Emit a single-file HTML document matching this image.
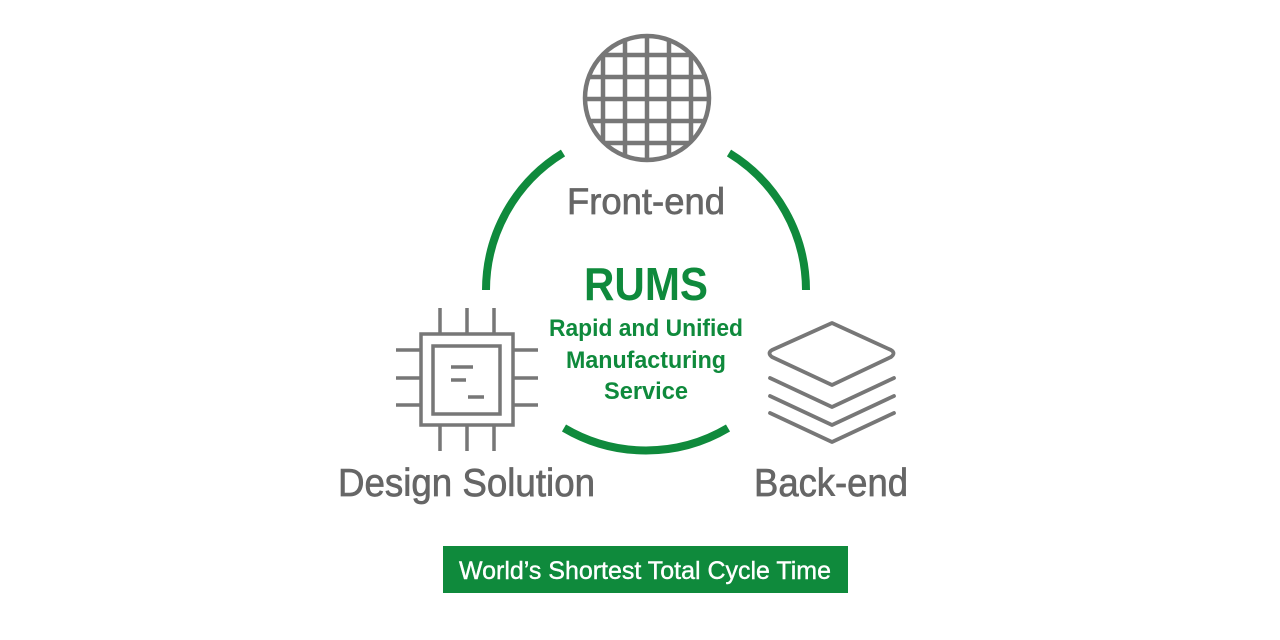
<!DOCTYPE html>
<html><head><meta charset="utf-8"><style>
html,body{margin:0;padding:0;background:#fff;}
svg{display:block;}
text{font-family:"Liberation Sans Narrow","Liberation Sans",sans-serif;}
</style></head><body>
<svg width="1280" height="640" viewBox="0 0 1280 640" xmlns="http://www.w3.org/2000/svg">
<defs><clipPath id="wc"><circle cx="647" cy="98" r="63"/></clipPath></defs>
<g fill="none" stroke="#0f8a3c" stroke-width="8">
<path d="M486,290 A161,161 0 0 1 563,153"/>
<path d="M729,153 A161,161 0 0 1 806,290"/>
<path d="M564,428 A161,161 0 0 0 728,428"/>
</g>
<g stroke="#777" fill="none">
<circle cx="647" cy="98" r="62" stroke-width="4.5"/>
<g clip-path="url(#wc)" stroke-width="4.5">
<path d="M603,30V170M625,30V170M647,30V170M669,30V170M691,30V170"/>
<path d="M570,55H730M570,77H730M570,99H730M570,121H730M570,143H730"/>
</g>
</g>
<g stroke="#777" stroke-width="3.5" fill="none">
<rect x="421" y="334" width="92" height="91"/>
<rect x="433" y="346" width="67" height="68"/>
<path d="M440,308V334M467,308V334M494,308V334M440,425V451M467,425V451M494,425V451"/>
<path d="M396,350H421M396,378H421M396,405H421M513,350H538M513,378H538M513,405H538"/>
<path d="M451,367H473M451,380H466M468,397H484"/>
</g>
<g stroke="#777" stroke-width="3.8" fill="none" stroke-linejoin="round" stroke-linecap="round">
<path d="M832,323 L891,350 Q896,353 891,357 L832,385 L772,357 Q767,353 772,350 Z"/>
<path d="M770,378 L832,407 L894,378"/>
<path d="M770,396 L832,425 L894,396"/>
<path d="M770,413 L832,442 L894,413"/>
</g>
<g fill="#666" stroke="#666" stroke-width="0.7">
<text x="646" y="214" font-size="37" text-anchor="middle" textLength="158" lengthAdjust="spacingAndGlyphs">Front-end</text>
<text x="338" y="496" font-size="39" textLength="257" lengthAdjust="spacingAndGlyphs">Design Solution</text>
<text x="754" y="496" font-size="39" textLength="154" lengthAdjust="spacingAndGlyphs">Back-end</text>
</g>
<g fill="#0f8a3c" font-weight="bold" text-anchor="middle">
<text x="646" y="300" font-size="46" textLength="124" lengthAdjust="spacingAndGlyphs">RUMS</text>
<text x="646" y="336" font-size="24" textLength="194" lengthAdjust="spacingAndGlyphs">Rapid and Unified</text>
<text x="646" y="368" font-size="24" textLength="160" lengthAdjust="spacingAndGlyphs">Manufacturing</text>
<text x="646" y="399" font-size="24" textLength="84" lengthAdjust="spacingAndGlyphs">Service</text>
</g>
<rect x="443" y="546" width="405" height="47" fill="#0f8a3c"/>
<text x="645" y="579" font-size="25" fill="#fff" stroke="#fff" stroke-width="0.4" text-anchor="middle" textLength="372" lengthAdjust="spacingAndGlyphs">World’s Shortest Total Cycle Time</text>
</svg>
</body></html>
